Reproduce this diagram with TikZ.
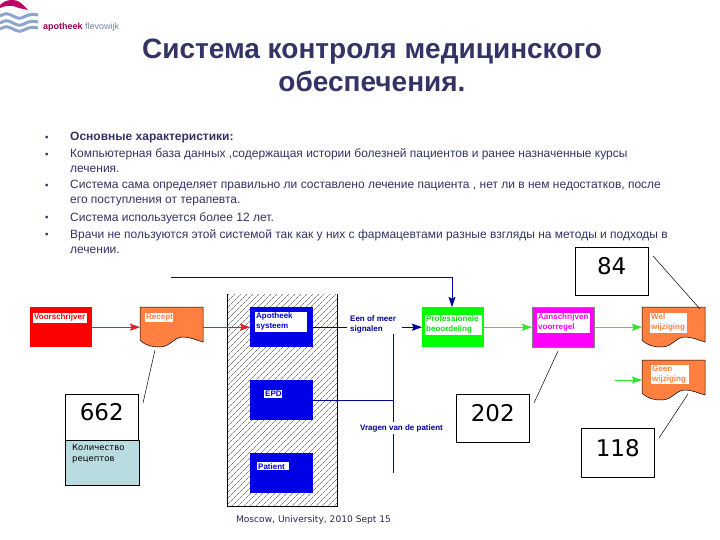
\documentclass[tikz,border=0pt]{standalone}
\usepackage{fontspec}
\setmainfont{Liberation Sans}
\newfontfamily\numfont{DejaVu Sans}
\usetikzlibrary{arrows.meta,patterns.meta}
\definecolor{navy}{RGB}{51,51,102}
\definecolor{linkblue}{RGB}{0,0,153}
\definecolor{docorange}{RGB}{255,128,64}
\definecolor{linkgreen}{RGB}{50,230,50}
\definecolor{linkred}{RGB}{225,30,40}
\definecolor{paleteal}{RGB}{185,220,225}
\definecolor{wavegray}{RGB}{140,165,205}
\definecolor{logopink}{RGB}{190,0,100}
\definecolor{boxmagenta}{RGB}{255,0,255}
\definecolor{boxgreen}{RGB}{0,255,0}
\definecolor{boxblue}{RGB}{0,0,230}
\definecolor{boxred}{RGB}{255,0,0}
\tikzset{
  block/.style={minimum width=62pt,minimum height=40pt,inner sep=0pt,anchor=north west},
  tag/.style={fill=white,font=\bfseries\fontsize{8}{10}\selectfont,align=left,inner sep=1pt,anchor=north west},
  countbox/.style={draw,fill=white,font=\numfont\fontsize{23}{23}\selectfont,inner sep=0pt,minimum width=73pt,text depth=10pt,anchor=north west},
  note/.style={font=\fontsize{12}{14}\selectfont,text=navy,anchor=base west,inner sep=0pt},
  dot/.style={font=\fontsize{9.5}{11}\selectfont,text=navy,anchor=base west,inner sep=0pt},
  flowred/.style={linkred,line width=.7pt,-{Stealth[length=10pt,width=7pt,inset=1.5pt]}},
  flowgreen/.style={linkgreen,line width=.7pt,-{Stealth[length=10pt,width=7pt,inset=1.5pt]}},
  flowblue/.style={linkblue,line width=.7pt,-{Stealth[length=10pt,width=7pt,inset=1.5pt]}},
  plainblue/.style={linkblue,line width=.7pt},
  signal/.style={text=linkblue,font=\bfseries\fontsize{8}{10}\selectfont,align=left,inner sep=0pt}
}
% orange sheet with a wavy lower edge, name / left / top
\newcommand{\wavedoc}[3]{
  \fill[docorange] (#2,#3+33) .. controls (#2+6,#3+39) and (#2+12,#3+40) .. (#2+20,#3+40) .. controls (#2+30,#3+40) and (#2+34,#3+30) .. (#2+43,#3+30) .. controls (#2+50,#3+30) and (#2+56,#3+33) .. (#2+63,#3+35) -- (#2+63,#3) -- (#2,#3) -- cycle;
  \draw[black,line width=.5pt] (#2,#3+33) .. controls (#2+6,#3+39) and (#2+12,#3+40) .. (#2+20,#3+40) .. controls (#2+30,#3+40) and (#2+34,#3+30) .. (#2+43,#3+30) .. controls (#2+50,#3+30) and (#2+56,#3+33) .. (#2+63,#3+35) -- (#2+63,#3) -- (#2,#3) -- cycle;
  \node[minimum width=63pt,minimum height=40pt,inner sep=0pt,anchor=north west] (#1) at (#2,#3) {};
}
\begin{document}
\begin{tikzpicture}[x=1pt,y=-1pt]
    \useasboundingbox (0,0) rectangle (720,540);
    % logo
    \fill[logopink] (0,5) .. controls (6,-1) and (16,-2) .. (22,4) -- (28,10) -- (19,8) .. controls (13,5) and (6,5) .. (0,8) -- cycle;
    \foreach \y in {16,23,29}
      \draw[wavegray,line width=3pt] (0,\y) .. controls (6,\y-3) and (7,\y-3) .. (13,\y) .. controls (19,\y+3) and (20,\y+3) .. (26,\y) .. controls (30,\y-2) and (34,\y-2) .. (38,\y-1);
    \node[anchor=base west,inner sep=0pt,font=\fontsize{9}{10}\selectfont] (brand) at (43,30) {\textbf{\textcolor{logopink!80!black}{apotheek}} \textcolor{wavegray!80!black}{flevowijk}};
    % heading
    \node[align=center,text=navy,font=\bfseries\fontsize{28}{33}\selectfont,inner sep=0pt] (heading) at (372,65) {Система контроля медицинского\\обеспечения.};
    % bullets
    \foreach \y in {138,155,186,218,234}
      \node[dot] at (45,\y+3) {▪};
    \node[note] (line1) at (70,141) {\textbf{Основные характеристики:}};
    \node[note] (line2) at (70,158) {Компьютерная база данных ,содержащая истории болезней пациентов и ранее назначенные курсы};
    \node[note] (line3) at (70,173) {лечения.};
    \node[note] (line4) at (70,189) {Система сама определяет правильно ли составлено лечение пациента , нет ли в нем недостатков, после};
    \node[note] (line5) at (70,204) {его поступления от терапевта.};
    \node[note] (line6) at (70,222) {Система используется более 12 лет.};
    \node[note] (line7) at (70,238) {Врачи не пользуются этой системой так как у них с фармацевтами разные взгляды на методы и подходы в};
    \node[note] (line8) at (70,253) {лечении.};
    % hatched column
    \fill[pattern={Lines[angle=45,distance=4pt,line width=.4pt]},pattern color=black!75] (227,294) rectangle (337,506);
    \fill[pattern={Dots[angle=45,distance=4pt,radius=.3pt]},pattern color=black!60] (227,294) rectangle (337,506);
    \draw[line width=.5pt] (227,294) -- (227,506) -- (337,506) -- (337,294);
    % blocks
    \node[block,fill=boxred] (prescriber) at (30,307) {};
    \wavedoc{receipt}{140}{307}
    \node[block,fill=boxblue,minimum width=63pt] (pharmacy) at (250,307) {};
    \node[block,fill=boxblue,minimum width=63pt] (epd) at (250,380) {};
    \node[block,fill=boxblue,minimum width=63pt] (patient) at (250,453) {};
    \node[block,fill=boxgreen] (review) at (422,307) {};
    \node[block,fill=boxmagenta,draw=black!50] (letter) at (532,307) {};
    \wavedoc{change}{642}{307}
    \wavedoc{nochange}{642}{360}
    % tags
    \node[tag,text=boxred,text width=52pt] at (33,313) {Voorschrijver};
    \node[tag,text=docorange,text width=26pt] at (145,313) {Recept};
    \node[tag,text=boxblue,text width=50pt] at (255,312) {Apotheek\\systeem};
    \node[tag,text=boxblue,text width=16pt] at (264,390) {EPD};
    \node[tag,text=boxblue,text width=30pt] at (257,462) {Patient};
    \node[tag,text=boxgreen!90!black,text width=55pt] at (425,315) {Professionele\\beoordeling};
    \node[tag,text=boxmagenta,text width=51pt] at (537,313) {Aanschrijven\\voorregel};
    \node[tag,text=docorange,text width=35pt] at (650,313) {Wel\\wijziging};
    \node[tag,text=docorange,text width=36pt] at (651,365) {Geen\\wijziging};
    % signals
    \node[signal,anchor=west] (signals) at (350,324) {Een of meer\\signalen};
    \node[signal,anchor=center,fill=white,inner ysep=2pt] (questions) at (401.5,428) {Vragen van de patient};
    \coordinate (junction) at (393,334);
    \coordinate (tail) at (393,473);
    \coordinate (feed) at (171,277);
    \coordinate (corner) at (452,277);
    \coordinate (greenstart) at (615,380);
    % connectors
    \draw[flowred] (prescriber.east) -- (receipt.west);
    \draw[flowred] (receipt.east) -- (pharmacy.west);
    \draw[plainblue] (pharmacy.east) -- ([xshift=-3pt]signals.west |- pharmacy.east);
    \draw[flowblue] ([xshift=6pt]signals.east |- review.west) -- (review.west);
    \draw[plainblue] (feed) -- (corner);
    \draw[flowblue] (corner) -- (review.north -| corner);
    \draw[plainblue] (junction) -- (questions.north -| junction);
    \draw[plainblue] (questions.south -| junction) -- (tail);
    \draw[plainblue] (epd.east) -- (epd.east -| junction);
    \draw[flowgreen] (review.east) -- (letter.west);
    \draw[flowgreen] (letter.east) -- (change.west);
    \draw[flowgreen] (greenstart) -- (nochange.west |- greenstart);
    % counts
    \node[countbox,minimum height=48pt] (count84) at (575,247) {84};
    \node[countbox,minimum height=48pt] (count202) at (456,394) {202};
    \node[countbox,minimum height=49pt] (count118) at (581,428) {118};
    \node[countbox,minimum height=46pt] (count662) at (65,394) {662};
    \node[draw,fill=paleteal,minimum width=74pt,minimum height=45pt,anchor=north west,inner sep=0pt] (caption) at (65,440) {};
    \node[anchor=north west,align=left,inner sep=0pt,font=\numfont\fontsize{8.5}{11}\selectfont] (captiontext) at (72,444) {Количество\\рецептов};
    \coordinate (tick84a) at (653,256);
    \coordinate (tick84b) at (700,309);
    \coordinate (tick202a) at (534,403);
    \coordinate (tick202b) at (558,351);
    \coordinate (tick118a) at (659,438);
    \coordinate (tick118b) at (688,394);
    \coordinate (tick662a) at (143,403);
    \coordinate (tick662b) at (155,350);
    \draw[line width=.5pt] (tick84a) -- (tick84b);
    \draw[line width=.5pt] (tick202a) -- (tick202b);
    \draw[line width=.5pt] (tick118a) -- (tick118b);
    \draw[line width=.5pt] (tick662a) -- (tick662b);
    % footer
    \node[text=navy!80!black,inner sep=0pt,font=\numfont\fontsize{9.1}{10}\selectfont] (footer) at (313.5,520) {Moscow, University, 2010 Sept 15};
\end{tikzpicture}
\end{document}
